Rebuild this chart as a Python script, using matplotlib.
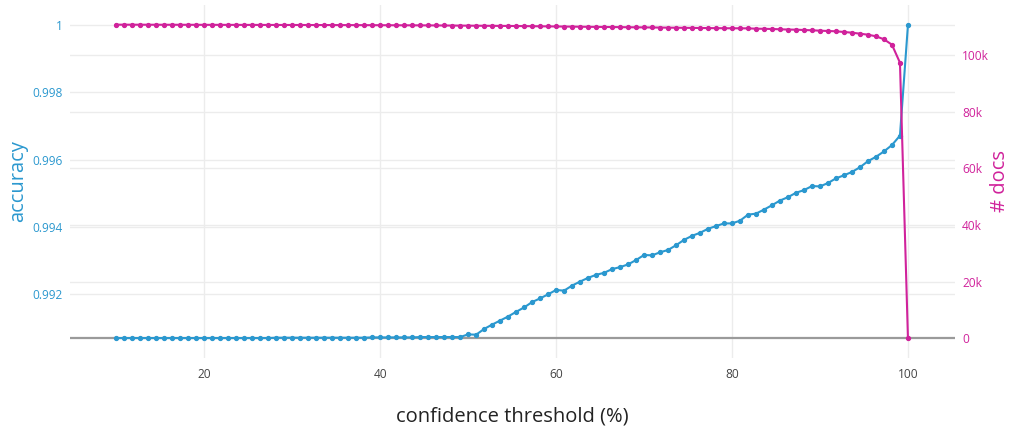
import numpy as np
import matplotlib.pyplot as plt
from matplotlib import transforms
from matplotlib.ticker import FuncFormatter, MultipleLocator

plt.rcParams['font.family'] = ['Open Sans', 'DejaVu Sans']

BLUE = '#2b98cf'
PINK = '#d0229b'
GRID = '#ececec'

# 100 seuils de confiance entre 10 et 100 %
thresholds = np.linspace(10, 100, 100)

accuracy = [
    0.99069, 0.99069, 0.99069, 0.99069, 0.99069, 0.99069, 0.99069, 0.99069, 0.99069, 0.99069,
    0.99069, 0.99069, 0.99069, 0.99069, 0.99069, 0.99069, 0.99069, 0.99069, 0.99069, 0.99069,
    0.99070, 0.99070, 0.99070, 0.99070, 0.99070, 0.99070, 0.99070, 0.99070, 0.99070, 0.99070,
    0.99070, 0.99070, 0.99071, 0.99071, 0.99071, 0.99071, 0.99071, 0.99071, 0.99072, 0.99072,
    0.99072, 0.99072, 0.99072, 0.99072, 0.99080, 0.99079, 0.99096, 0.99109, 0.99121, 0.99133,
    0.99147, 0.99160, 0.99176, 0.99187, 0.99199, 0.99212, 0.99210, 0.99225, 0.99237, 0.99248,
    0.99257, 0.99263, 0.99274, 0.99280, 0.99288, 0.99301, 0.99316, 0.99315, 0.99324, 0.99331,
    0.99345, 0.99361, 0.99373, 0.99382, 0.99394, 0.99402, 0.99410, 0.99410, 0.99418, 0.99436,
    0.99439, 0.99451, 0.99464, 0.99478, 0.99488, 0.99501, 0.99509, 0.99521, 0.99520, 0.99530,
    0.99544, 0.99553, 0.99563, 0.99577, 0.99595, 0.99608, 0.99624, 0.99643, 0.99671, 1.00000,
]

docs = [
    110700, 110700, 110690, 110690, 110680, 110680, 110670, 110670, 110660, 110660,
    110650, 110650, 110640, 110640, 110630, 110630, 110620, 110620, 110610, 110610,
    110600, 110600, 110590, 110590, 110580, 110570, 110570, 110560, 110550, 110550,
    110540, 110530, 110520, 110510, 110500, 110490, 110480, 110470, 110460, 110450,
    110430, 110410, 110390, 110370, 110350, 110330, 110310, 110290, 110270, 110250,
    110220, 110190, 110160, 110130, 110100, 110070, 110040, 110010, 109980, 109950,
    109920, 109890, 109860, 109830, 109800, 109770, 109740, 109710, 109680, 109650,
    109620, 109590, 109560, 109530, 109500, 109470, 109440, 109430, 109420, 109400,
    109280, 109240, 109180, 109070, 108980, 108930, 108820, 108720, 108580, 108470,
    108360, 108120, 107870, 107520, 107160, 106600, 105540, 103630, 97280, 0,
]


def main():
    fig = plt.figure(figsize=(10.09, 4.26), dpi=100)
    ax1 = fig.add_axes([0.0694, 0.1596, 0.8771, 0.8287])
    ax2 = ax1.twinx()

    ax1.set_xlim(4.75, 105.35)
    ax1.set_ylim(0.990097, 1.000595)
    ax2.set_ylim(-6950, 117650)

    ax1.xaxis.set_major_locator(MultipleLocator(20))
    ax1.yaxis.set_major_locator(MultipleLocator(0.002))
    ax2.yaxis.set_major_locator(MultipleLocator(20000))
    ax1.yaxis.set_major_formatter(FuncFormatter(lambda v, p: f'{round(v, 3):g}'))
    ax2.yaxis.set_major_formatter(
        FuncFormatter(lambda v, p: '0' if v == 0 else f'{int(round(v / 1000))}k'))

    # grilles : celle de l'axe de droite est tracée dans ax1 pour rester sous les courbes
    ax1.grid(True, color=GRID, lw=1)
    ax2.grid(False)
    tr = transforms.blended_transform_factory(ax1.transAxes, ax2.transData)
    for v in ax2.get_yticks():
        if v == 0:
            ax1.plot([0, 1], [v, v], transform=tr, color='#9a9a9a', lw=1.6, zorder=1.5)
        elif -6950 < v < 117650:
            ax1.plot([0, 1], [v, v], transform=tr, color=GRID, lw=1, zorder=0.5)
    ax1.set_axisbelow(True)

    ax1.plot(thresholds, accuracy, color=BLUE, lw=1.5, marker='o', ms=2.8, zorder=2)
    ax2.plot(thresholds, docs, color=PINK, lw=1.5, marker='o', ms=2.8, zorder=2)

    for ax in (ax1, ax2):
        for s in ax.spines.values():
            s.set_visible(False)
        ax.tick_params(length=0, labelsize=8.6)
    ax1.tick_params(axis='x', colors='#444444', pad=7)
    ax1.tick_params(axis='y', colors=BLUE, pad=5)
    ax2.tick_params(axis='y', colors=PINK, pad=5)

    ax1.set_ylabel('accuracy', color=BLUE, fontsize=14.5, va='center')
    ax1.yaxis.set_label_coords(-0.0588, 0.5)
    ax2.set_ylabel('# docs', color=PINK, fontsize=14.5, va='center')
    ax2.yaxis.set_label_coords(1.0508, 0.5)
    ax1.set_xlabel('confidence threshold (%)', color='#222222', fontsize=14.5, va='center')
    ax1.xaxis.set_label_coords(0.5, -0.167)

    fig.savefig('out.png', dpi=100)


if __name__ == "__main__":
    main()
